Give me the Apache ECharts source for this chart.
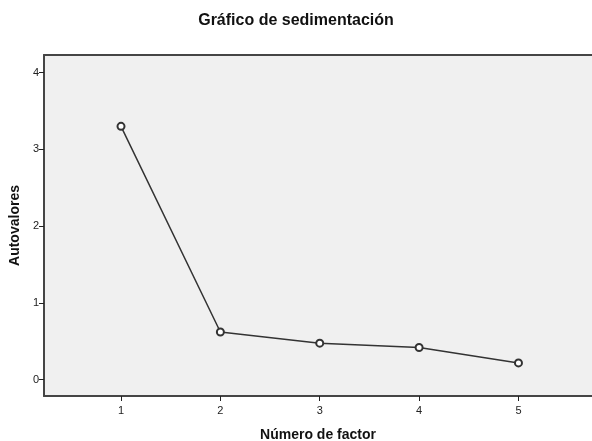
<!DOCTYPE html>
<html><head><meta charset="utf-8">
<script src="https://cdn.jsdelivr.net/npm/echarts@6/dist/echarts.min.js"></script>
<style>html,body{margin:0;padding:0;background:#fff}#c{width:592px;height:441px}</style>
</head><body><div id="c"></div>
<script>
const factors = [1, 2, 3, 4, 5];
const eigenvalues = [3.30, 0.62, 0.475, 0.418, 0.217];
const yTicks = [0, 1, 2, 3, 4];
const xTicks = [1, 2, 3, 4, 5];

const chart = echarts.init(document.getElementById('c'), null, {renderer: 'canvas'});
const font = '"Liberation Sans", Arial, sans-serif';
const axisColor = '#454545';
chart.setOption({
  animation: false,
  title: {
    text: 'Gráfico de sedimentación', left: 'center', top: 8,
    textStyle: {fontFamily: font, fontSize: 16, fontWeight: 'bold', color: '#111'}
  },
  grid: {left: 44, right: 0, top: 55, bottom: 45, show: true, backgroundColor: '#f0f0f0', borderWidth: 0,
         outerBoundsMode: 'none', containLabel: false},
  xAxis: [{
    type: 'value', min: 0.225, max: 5.74,
    name: 'Número de factor', nameLocation: 'middle', nameGap: 32,
    nameTextStyle: {fontFamily: font, fontSize: 14, fontWeight: 'bold', color: '#111'},
    axisLine: {show: true, onZero: false, lineStyle: {color: axisColor, width: 2}},
    axisTick: {show: true, customValues: xTicks, length: 5, lineStyle: {color: '#222', width: 1}},
    axisLabel: {customValues: xTicks, fontFamily: font, fontSize: 11, color: '#222', margin: 9},
    splitLine: {show: false}
  }, {
    type: 'value', position: 'top', min: 0.225, max: 5.74,
    axisLine: {show: true, onZero: false, lineStyle: {color: axisColor, width: 2}},
    axisTick: {show: false}, axisLabel: {show: false}, splitLine: {show: false}
  }],
  yAxis: {
    type: 'value', min: -0.214, max: 4.23,
    name: 'Autovalores', nameLocation: 'middle', nameGap: 21, nameRotate: 90,
    nameTextStyle: {fontFamily: font, fontSize: 14, fontWeight: 'bold', color: '#111'},
    axisLine: {show: true, onZero: false, lineStyle: {color: axisColor, width: 2}},
    axisTick: {show: true, customValues: yTicks, length: 5, lineStyle: {color: '#222', width: 1}},
    axisLabel: {customValues: yTicks, fontFamily: font, fontSize: 11, color: '#222', margin: 5},
    splitLine: {show: false}
  },
  series: [{
    type: 'line', xAxisIndex: 0,
    data: factors.map((f, i) => [f, eigenvalues[i]]),
    symbol: 'emptyCircle', symbolSize: 7,
    lineStyle: {color: '#333', width: 1.5},
    itemStyle: {color: '#333', borderColor: '#333', borderWidth: 1.3}
  }]
});
</script></body></html>
